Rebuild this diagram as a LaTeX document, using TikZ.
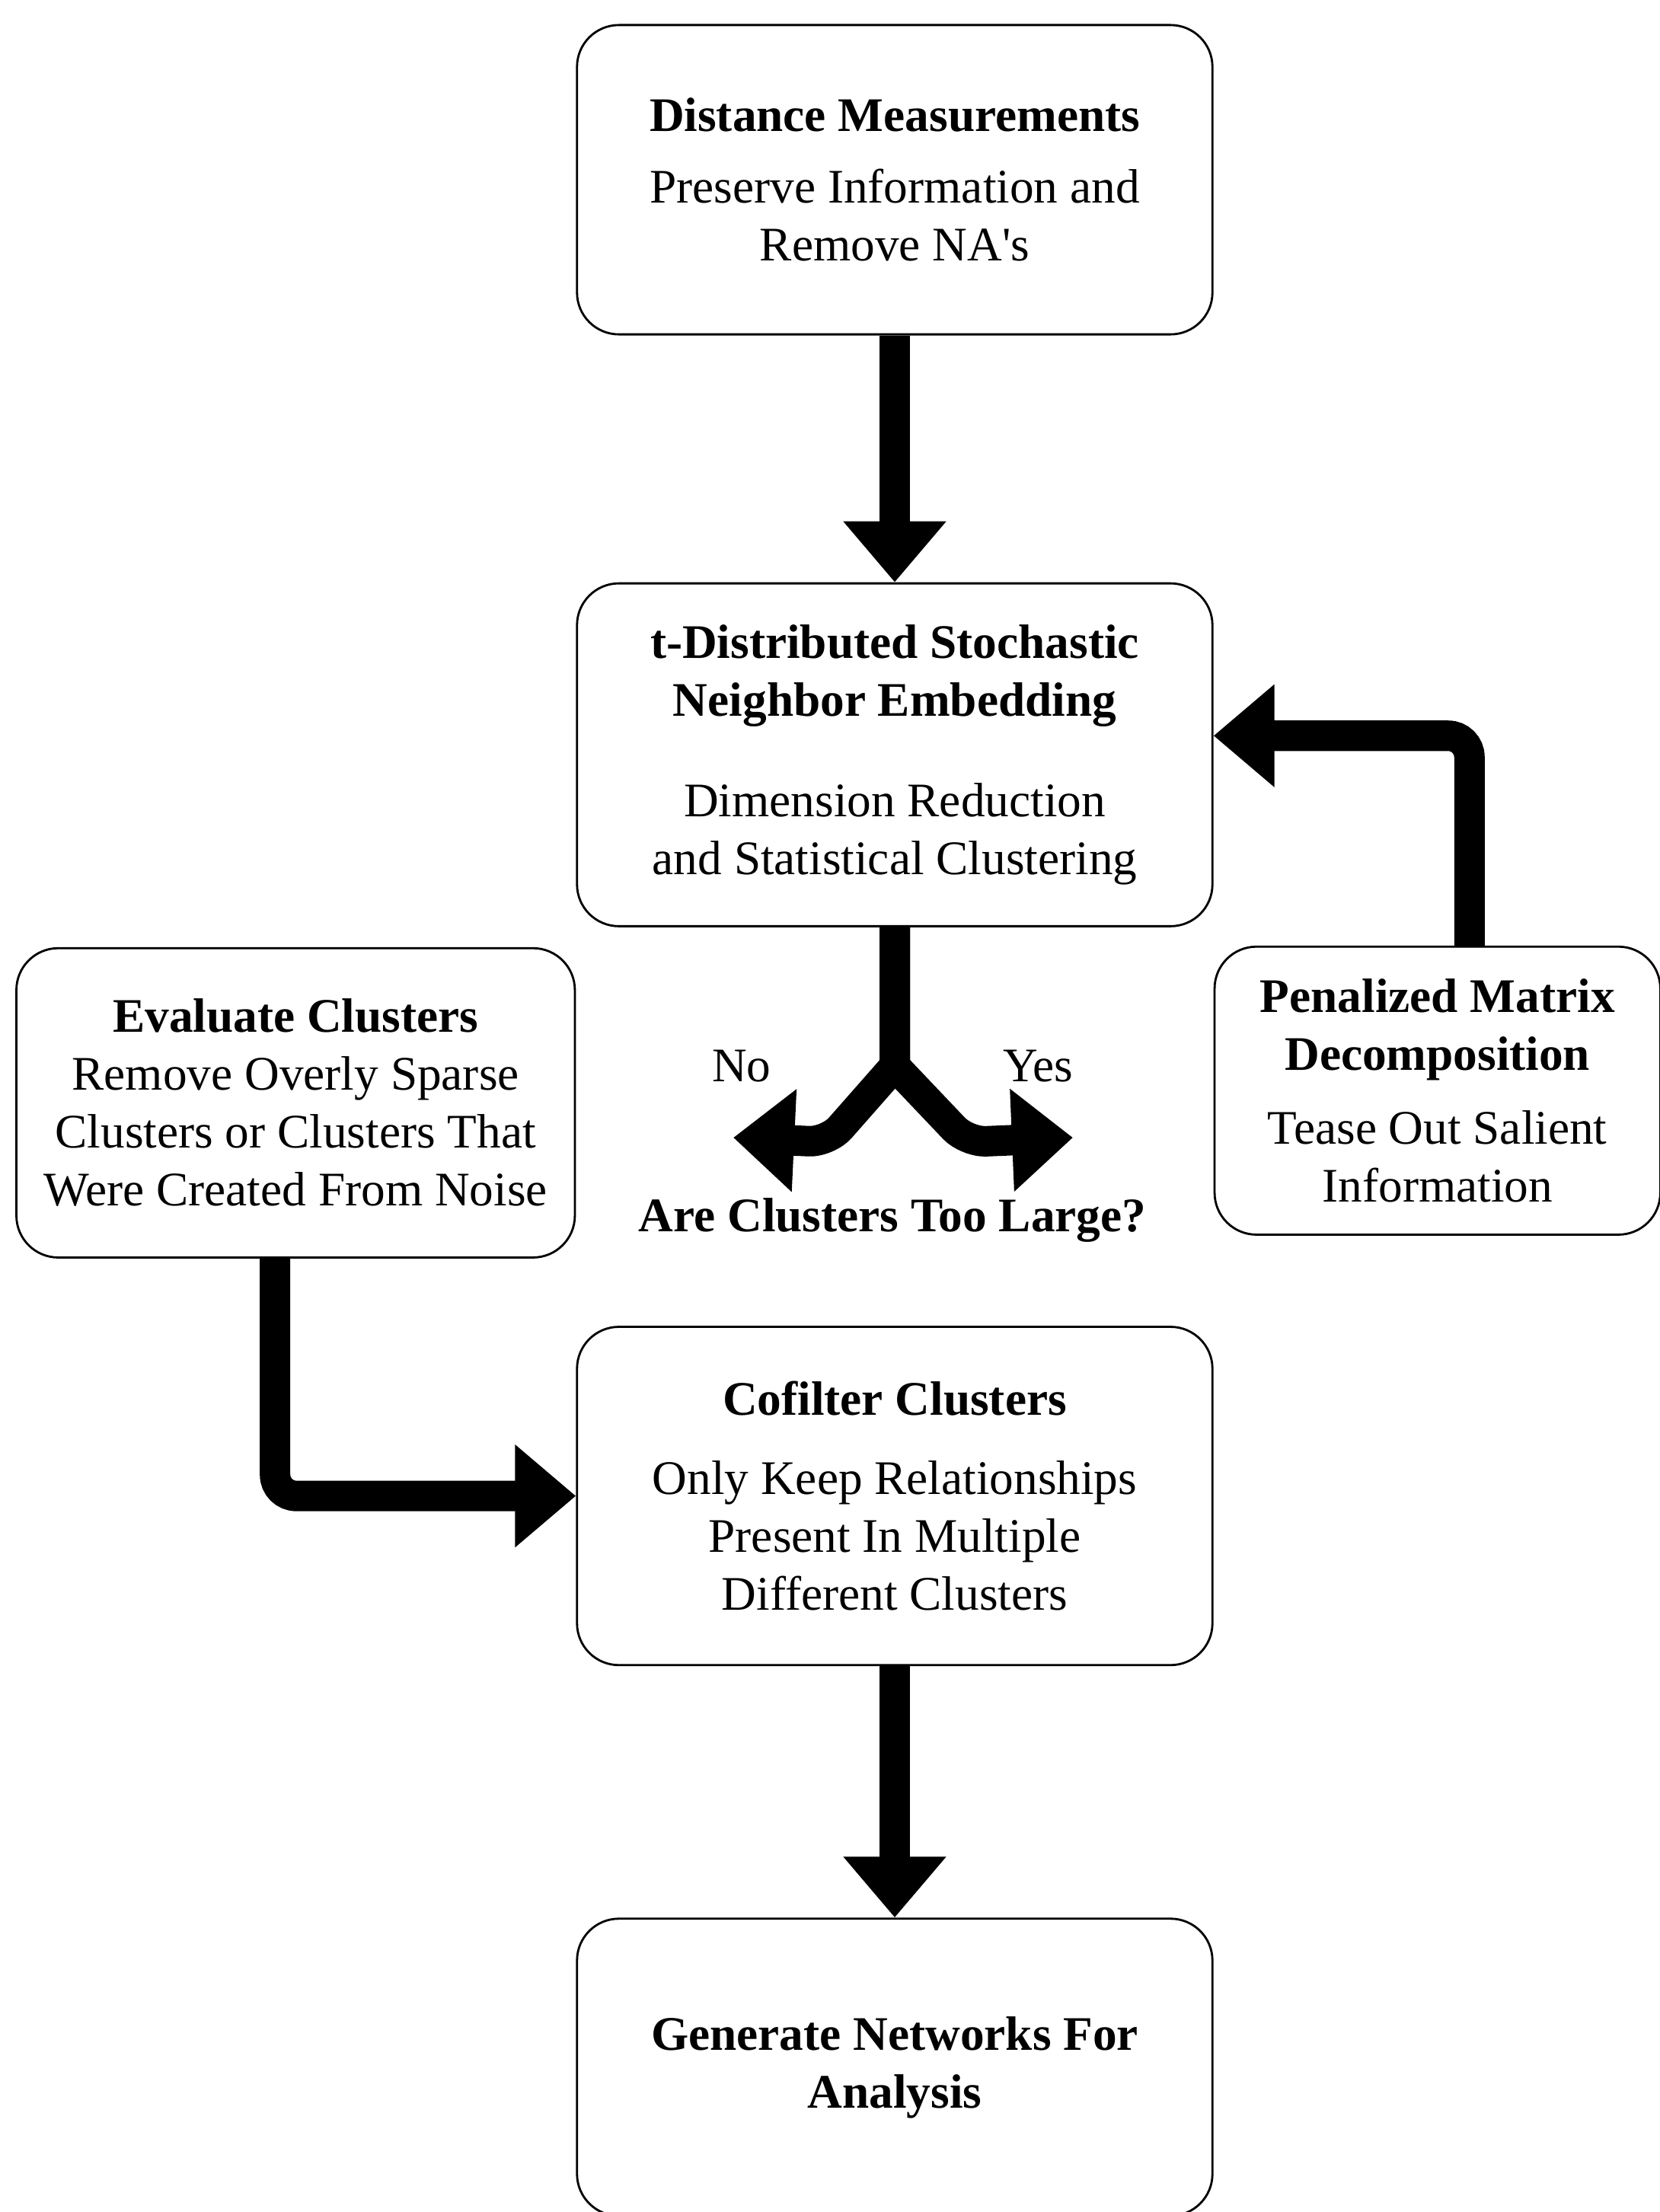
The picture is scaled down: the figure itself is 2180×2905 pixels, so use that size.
\documentclass[tikz,border=0pt]{standalone}
\usepackage{fontspec}
\setmainfont{Liberation Serif}
\usetikzlibrary{arrows.meta, positioning, calc}

\begin{document}
\begin{tikzpicture}[
    x=0.01cm, y=-0.01cm,
    every node/.style={font=\fontsize{18}{21.6}\selectfont},
    box/.style={rectangle, draw, line width=0.8pt, rounded corners=0.55cm, align=center, inner sep=0pt},
    arrow/.style={-{Triangle[width=1.3cm, length=0.8cm]}, line width=0.4cm}
]
\useasboundingbox (0,0) rectangle (2180,2905);

% Main column
\node[box, minimum width=8.34cm, minimum height=4.06cm] (dist) at (1175,236) {\textbf{Distance Measurements}\\[5pt]Preserve Information and\\Remove NA\textquotesingle s};

\node[box, minimum width=8.34cm, minimum height=4.5cm, below=3.24cm of dist] (tsne) {\textbf{t-Distributed Stochastic}\\\textbf{Neighbor Embedding}\\[16pt]Dimension Reduction\\and Statistical Clustering};

\node[box, minimum width=8.34cm, minimum height=4.44cm, below=5.23cm of tsne] (cofilt) {\textbf{Cofilter Clusters}\\[8pt]Only Keep Relationships\\Present In Multiple\\Different Clusters};

\node[box, minimum width=8.34cm, minimum height=3.9cm, below=3.3cm of cofilt] (gen) {\textbf{Generate Networks For}\\\textbf{Analysis}};

% Side boxes
\node[box, minimum width=5.85cm, minimum height=3.78cm, below right=0.24cm and 0cm of tsne.south east] (pmd) {\textbf{Penalized Matrix}\\\textbf{Decomposition}\\[6pt]Tease Out Salient\\Information};

\node[box, minimum width=7.33cm, minimum height=4.06cm, below left=0.26cm and 0cm of tsne.south west] (evalc) {\textbf{Evaluate Clusters}\\Remove Overly Sparse\\Clusters or Clusters That\\Were Created From Noise};

% Arrows between stages
\draw[arrow] (dist) -- (tsne);
\draw[arrow] (cofilt) -- (gen);

% Feedback and filtering arrows
\draw[arrow, rounded corners=0.28cm] ([xshift=0.42cm]pmd.north) |- ([yshift=0.25cm]tsne.east);
\draw[arrow, rounded corners=0.28cm] ([xshift=-0.27cm]evalc.south) |- (cofilt.west);

% Decision fork
\coordinate[below=1.82cm of tsne.south] (split);
\coordinate (nopt) at (963,1494);
\coordinate (yespt) at (1409,1494);
\draw[arrow] (tsne.south) -- (split) [rounded corners=0.25cm] -- ++(-88,100) -- (nopt);
\draw[arrow] (tsne.south) -- (split) [rounded corners=0.25cm] -- ++(95,100) -- (yespt);

\node[left=1.5cm of split] (nolabel) {No};
\node[right=1.3cm of split] (yeslabel) {Yes};
\node[font=\fontsize{18}{21.6}\selectfont\bfseries] (question) at (1172,1603) {Are Clusters Too Large?};

\end{tikzpicture}
\end{document}
